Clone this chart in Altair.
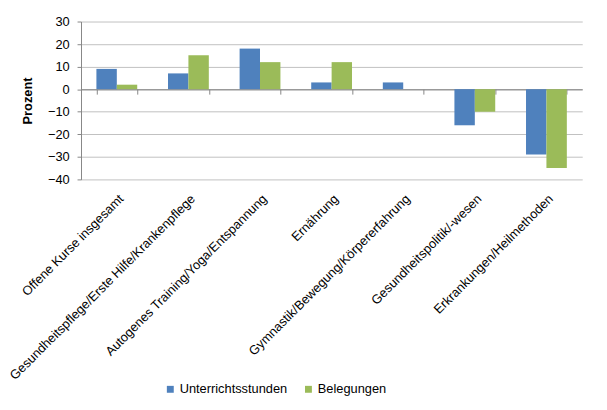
import altair as alt
import pandas as pd

categories = [
    "Offene Kurse insgesamt",
    "Gesundheitspflege/Erste Hilfe/Krankenpflege",
    "Autogenes Training/Yoga/Entspannung",
    "Ernährung",
    "Gymnastik/Bewegung/Körpererfahrung",
    "Gesundheitspolitik/-wesen",
    "Erkrankungen/Heilmethoden",
]
series = ["Unterrichtsstunden", "Belegungen"]
unterrichtsstunden = [9, 7, 18, 3, 3, -16, -29]
belegungen = [2, 15, 12, 12, 0, -10, -35]
y_ticks = [-40, -30, -20, -10, 0, 10, 20, 30]
colors = ["#4F81BD", "#9BBB59"]

rows = []
for c, u, b in zip(categories, unterrichtsstunden, belegungen):
    rows.append({"Kategorie": c, "Serie": series[0], "Wert": u})
    rows.append({"Kategorie": c, "Serie": series[1], "Wert": b})
df = pd.DataFrame(rows)

FONT = "Liberation Sans"
W, H = 508, 160
zero_from_bottom = H * 40 / 70

bars = alt.Chart(df).mark_bar().encode(
    x=alt.X(
        "Kategorie:N",
        sort=categories,
        title=None,
        scale=alt.Scale(paddingInner=0.43, paddingOuter=0.215),
        axis=alt.Axis(
            orient="bottom",
            offset=-zero_from_bottom,
            labelAngle=-45,
            labelAlign="right",
            labelBaseline="top",
            labelPadding=zero_from_bottom + 8,
            tickBand="extent",
            tickSize=5,
            tickColor="#868686",
            domainColor="#868686",
            labelFont=FONT,
            labelFontSize=13,
            labelColor="#000000",
            labelLimit=400,
            grid=False,
        ),
    ),
    xOffset=alt.XOffset("Serie:N", sort=series, scale=alt.Scale(domain=series)),
    y=alt.Y(
        "Wert:Q",
        title="Prozent",
        scale=alt.Scale(domain=[-40, 30], nice=False),
        axis=alt.Axis(
            values=y_ticks,
            tickSize=4,
            tickColor="#868686",
            domainColor="#868686",
            gridColor="#C0C0C0",
            labelFont=FONT,
            labelFontSize=13,
            labelColor="#000000",
            labelPadding=8,
            titleFont=FONT,
            titleFontSize=13,
            titleFontWeight="bold",
            titleColor="#000000",
            titleX=-54,
            titleY=H / 2,
            titleBaseline="middle",
        ),
    ),
    color=alt.Color(
        "Serie:N",
        sort=series,
        scale=alt.Scale(domain=series, range=colors),
        legend=alt.Legend(
            title=None,
            orient="none",
            direction="horizontal",
            legendX=84,
            legendY=366,
            symbolType="square",
            symbolSize=49,
            symbolStrokeWidth=0,
            labelFont=FONT,
            labelFontSize=13,
            labelColor="#000000",
            labelOffset=3,
            columnPadding=14,
            padding=0,
        ),
    ),
)

chart = bars.properties(
    width=W,
    height=H,
    autosize=alt.AutoSizeParams(type="none"),
    padding={"left": 74, "top": 11, "right": 17, "bottom": 231},
).configure_view(stroke="transparent")

chart.save("out.html", embed_options={"renderer": "svg", "actions": False})
